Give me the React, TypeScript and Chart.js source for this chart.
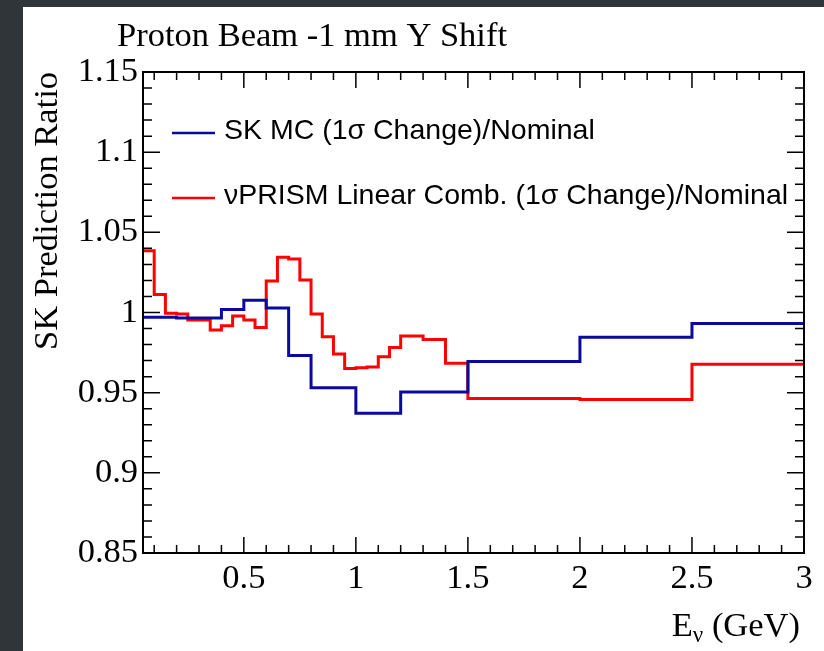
import React, { useEffect, useRef } from "react";
import { Chart, registerables } from "chart.js";

Chart.register(...registerables);

// ---- data ----
const RED_EDGES = [0.05, 0.1, 0.15, 0.2, 0.25, 0.3, 0.35, 0.4, 0.45, 0.5, 0.55, 0.6, 0.65, 0.7, 0.75, 0.8, 0.85, 0.9, 0.95, 1.0, 1.05, 1.1, 1.15, 1.2, 1.25, 1.3, 1.4, 1.5, 2.0, 2.5, 3.0];
const RED_VALUES = [1.0385, 1.0113, 0.9995, 0.999, 0.9953, 0.9953, 0.9891, 0.9918, 0.9978, 0.9953, 0.9907, 1.0196, 1.0344, 1.0333, 1.0202, 0.999, 0.9849, 0.9741, 0.9651, 0.9656, 0.966, 0.9724, 0.9782, 0.9853, 0.9853, 0.9832, 0.9683, 0.9464, 0.9458, 0.9677];
const BLUE_EDGES = [0.05, 0.2, 0.4, 0.5, 0.6, 0.7, 0.8, 1.0, 1.2, 1.5, 2.0, 2.5, 3.0];
const BLUE_VALUES = [0.997, 0.9965, 1.0019, 1.0076, 1.0028, 0.9732, 0.9531, 0.9371, 0.9504, 0.9695, 0.9845, 0.9932];
const X_TICKS = [0.5, 1, 1.5, 2, 2.5, 3];
const Y_TICKS = [0.85, 0.9, 0.95, 1, 1.05, 1.1, 1.15];
const X_MIN = 0.05;
const X_MAX = 3;
const Y_MIN = 0.85;
const Y_MAX = 1.15;
const TITLE = "Proton Beam -1 mm Y Shift";
const Y_TITLE = "SK Prediction Ratio";
const LEGEND_LABELS = ["SK MC (1σ Change)/Nominal", "νPRISM Linear Comb. (1σ Change)/Nominal"];

const BLUE = "#0a0a9c";
const RED = "#ff0000";
const W = 824;
const H = 651;
const SERIF = "'Liberation Serif', 'Times New Roman', serif";
const SANS = "'Liberation Sans', Arial, sans-serif";
const SERIF_SIZE = 34.5;

function histPoints(edges: number[], values: number[]) {
  const pts = values.map((v, i) => ({ x: edges[i], y: v }));
  pts.push({ x: edges[edges.length - 1], y: values[values.length - 1] });
  return pts;
}

const decorPlugin = {
  id: "decor",
  beforeDraw(chart: any) {
    const ctx = chart.ctx;
    ctx.save();
    ctx.fillStyle = "#2f3538";
    ctx.fillRect(0, 0, W, H);
    ctx.fillStyle = "#ffffff";
    ctx.fillRect(23, 7, W - 23, H - 7);
    ctx.restore();
  },
  afterDraw(chart: any) {
    const ctx = chart.ctx;
    const a = chart.chartArea;
    const xs = chart.scales.x;
    const ys = chart.scales.y;
    ctx.save();
    // ticks
    ctx.strokeStyle = "#000";
    ctx.lineWidth = 1.5;
    ctx.beginPath();
    for (let k = 1; k < 30; k++) {
      const v = k / 10;
      if (v <= X_MIN) continue;
      const px = xs.getPixelForValue(v);
      const major = k % 5 === 0;
      const len = major ? 16 : 8;
      ctx.moveTo(px, a.bottom);
      ctx.lineTo(px, a.bottom - len);
      ctx.moveTo(px, a.top);
      ctx.lineTo(px, a.top + len);
    }
    for (let k = 85; k <= 115; k++) {
      const v = k / 100;
      const py = ys.getPixelForValue(v);
      const major = k % 5 === 0;
      const len = major ? 17 : 9;
      ctx.moveTo(a.left, py);
      ctx.lineTo(a.left + len, py);
      ctx.moveTo(a.right, py);
      ctx.lineTo(a.right - len, py);
    }
    ctx.stroke();
    // frame
    ctx.lineWidth = 2;
    ctx.strokeRect(a.left, a.top, a.right - a.left, a.bottom - a.top);

    // title
    ctx.fillStyle = "#000";
    ctx.font = `${SERIF_SIZE}px ${SERIF}`;
    ctx.textAlign = "left";
    ctx.textBaseline = "alphabetic";
    ctx.fillText(TITLE, 117, 46);

    // y title
    ctx.save();
    ctx.translate(48, 72);
    ctx.rotate(-Math.PI / 2);
    ctx.textAlign = "right";
    ctx.textBaseline = "middle";
    ctx.fillText(Y_TITLE, 0, 0);
    ctx.restore();

    // x title: E_nu (GeV)
    const big = `${SERIF_SIZE}px ${SERIF}`;
    const small = `23px ${SERIF}`;
    ctx.font = big;
    const wE = ctx.measureText("E").width;
    const wRest = ctx.measureText(" (GeV)").width;
    ctx.font = small;
    const wNu = ctx.measureText("ν").width;
    const x0 = 800 - (wE + wNu + wRest);
    const base = 636;
    ctx.textAlign = "left";
    ctx.textBaseline = "alphabetic";
    ctx.font = big;
    ctx.fillText("E", x0, base);
    ctx.font = small;
    ctx.fillText("ν", x0 + wE, base + 6);
    ctx.font = big;
    ctx.fillText(" (GeV)", x0 + wE + wNu, base);

    // legend
    const rows = [
      { y: 131, color: BLUE, label: LEGEND_LABELS[0] },
      { y: 196, color: RED, label: LEGEND_LABELS[1] },
    ];
    ctx.font = `28.5px ${SANS}`;
    ctx.textBaseline = "middle";
    for (const r of rows) {
      ctx.strokeStyle = r.color;
      ctx.lineWidth = 2.5;
      ctx.beginPath();
      ctx.moveTo(172, r.y + 2);
      ctx.lineTo(215, r.y + 2);
      ctx.stroke();
      ctx.fillStyle = "#000";
      ctx.fillText(r.label, 224, r.y);
    }
    ctx.restore();
  },
};

export default function App() {
  const ref = useRef<HTMLCanvasElement | null>(null);
  useEffect(() => {
    if (!ref.current) return;
    const chart = new Chart(ref.current, {
      type: "line",
      data: {
        datasets: [
          {
            label: LEGEND_LABELS[0],
            data: histPoints(BLUE_EDGES, BLUE_VALUES),
            borderColor: BLUE,
            borderWidth: 3,
            pointRadius: 0,
            fill: false,
            stepped: "before",
          },
          {
            label: LEGEND_LABELS[1],
            data: histPoints(RED_EDGES, RED_VALUES),
            borderColor: RED,
            borderWidth: 3,
            pointRadius: 0,
            fill: false,
            stepped: "before",
          },
        ],
      },
      options: {
        responsive: false,
        animation: false,
        events: [],
        layout: { padding: { left: 0, top: 72, right: 20, bottom: 0 } },
        plugins: {
          legend: { display: false },
          title: { display: false },
          tooltip: { enabled: false },
        },
        scales: {
          x: {
            type: "linear",
            min: X_MIN,
            max: X_MAX,
            grid: { display: false, drawTicks: false },
            border: { display: false },
            afterBuildTicks: (s: any) => {
              s.ticks = X_TICKS.map((v) => ({ value: v }));
            },
            afterFit: (s: any) => {
              s.height = H - 553;
            },
            ticks: {
              autoSkip: false,
              maxRotation: 0,
              minRotation: 0,
              padding: 5,
              color: "#000",
              font: { family: SERIF, size: SERIF_SIZE },
              callback: (v: any) => String(+Number(v).toFixed(2)),
            },
          },
          y: {
            type: "linear",
            min: Y_MIN,
            max: Y_MAX,
            grid: { display: false, drawTicks: false },
            border: { display: false },
            afterBuildTicks: (s: any) => {
              s.ticks = Y_TICKS.map((v) => ({ value: v }));
            },
            afterFit: (s: any) => {
              s.width = 143;
            },
            ticks: {
              autoSkip: false,
              padding: 5,
              color: "#000",
              font: { family: SERIF, size: SERIF_SIZE },
              callback: (v: any) => String(+Number(v).toFixed(2)),
            },
          },
        },
      },
      plugins: [decorPlugin],
    } as any);
    return () => chart.destroy();
  }, []);
  return (
    <div style={{ position: "fixed", left: 0, top: 0, width: W, height: H }}>
      <canvas ref={ref} width={W} height={H} style={{ display: "block" }} />
    </div>
  );
}
